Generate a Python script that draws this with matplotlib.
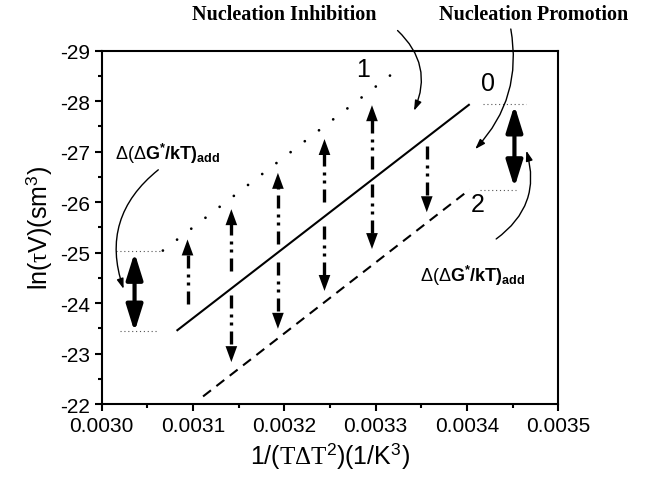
import numpy as np
import matplotlib
matplotlib.use('Agg')
import matplotlib.pyplot as plt
from matplotlib.ticker import MultipleLocator

plt.rcParams['font.family'] = ['Liberation Sans', 'DejaVu Sans']
plt.rcParams['mathtext.fontset'] = 'custom'
plt.rcParams['mathtext.rm'] = 'Liberation Serif'
plt.rcParams['mathtext.it'] = 'Liberation Serif:italic'
plt.rcParams['mathtext.sf'] = 'Liberation Sans'
plt.rcParams['mathtext.bf'] = 'Liberation Sans:bold'

# lines 0 (no additive), 1 (inhibition), 2 (promotion): end points
x_line0 = [0.003082, 0.003403]
y_line0 = [-23.45, -27.94]
x_line1 = [0.003067, 0.003331]
y_line1 = [-25.04, -28.72]
x_line2 = [0.003111, 0.003403]
y_line2 = [-22.15, -26.25]

# vertical arrows (dash-dot-dot)
up_x = [0.003094, 0.003142, 0.003193, 0.003244, 0.003296]
up_start = [-23.98, -24.64, -25.17, -26.00, -26.66]
up_tip = [-25.26, -25.86, -26.58, -27.25, -27.92]
down_x = [0.003142, 0.003193, 0.003244, 0.003296, 0.003356]
down_start = [-24.15, -24.81, -25.53, -26.36, -27.12]
down_tip = [-22.83, -23.49, -24.24, -25.07, -25.80]

# thick double arrows and the dotted guides
dbl_x = [0.003036, 0.003452]
dbl_y1 = [-25.00, -27.92]
dbl_y2 = [-23.43, -26.29]
guide_y = [-25.04, -23.44, -27.94, -26.25]
guide_x0 = [0.003016, 0.003020, 0.003418, 0.003414]
guide_x1 = [0.003066, 0.003062, 0.003465, 0.003454]

fig = plt.figure(figsize=(6.46, 4.81), dpi=100)
ax = fig.add_axes([0.1574, 0.158, 0.7068, 0.7345])

ax.plot(x_line0, y_line0, color='k', lw=1.5, solid_capstyle='butt')
ax.plot(x_line2, y_line2, color='k', lw=1.5, ls=(0, (4.8, 3.3)))
ax.plot(x_line1, y_line1, color='k', lw=2, ls=(0, (0.01, 6.44)),
        dash_capstyle='round')

# shaft drawn as a dash-dot-dot line, head as a filled triangle
dashdotdot = (0, (3.9, 1.8, 0.9, 1.5, 0.9, 1.8))
head_len = 0.28  # in data units along y
for x, s, t in zip(up_x + down_x, up_start + down_start, up_tip + down_tip):
    sgn = np.sign(t - s)
    ax.plot([x, x], [s, t - sgn * head_len], color='k', lw=2.4, ls=dashdotdot,
            dash_capstyle='butt')
    ax.annotate('', xy=(x, t), xytext=(x, s),
                arrowprops=dict(arrowstyle='-|>,head_length=1.15,head_width=0.42',
                                color='k', lw=0, shrinkA=0, shrinkB=0))

for x, a, b in zip(dbl_x, dbl_y1, dbl_y2):
    ax.annotate('', xy=(x, a), xytext=(x, b),
                arrowprops=dict(arrowstyle='<|-|>,head_length=1.6,head_width=0.5',
                                color='k', lw=3, shrinkA=0, shrinkB=0))

for y, a, b in zip(guide_y, guide_x0, guide_x1):
    ax.plot([a, b], [y, y], color='#555555', lw=0.8, ls=(0, (1, 2.5)))

# curve labels
ax.text(0.003286, -28.64, '1', fontsize=18, ha='center', va='center')
ax.text(0.003423, -28.37, '0', fontsize=18, ha='center', va='center')
ax.text(0.003412, -25.96, '2', fontsize=18, ha='center', va='center')

lab = r'$\mathsf{\Delta(\Delta}\mathbf{G^{*}/kT)_{add}}$'
ax.text(0.003015, -26.855, lab, fontsize=13, ha='left', va='baseline')
ax.text(0.003349, -24.44, lab, fontsize=13, ha='left', va='baseline')

# curved pointer arrows
thin = '-|>,head_length=0.6,head_width=0.2'
ax.annotate('', xy=(0.003342, -27.81), xytext=(0.003324, -29.40),
            annotation_clip=False,
            arrowprops=dict(arrowstyle=thin, color='k', lw=1,
                            connectionstyle='arc3,rad=-0.35', shrinkA=0, shrinkB=0))
ax.annotate('', xy=(0.003409, -27.05), xytext=(0.003448, -29.43),
            annotation_clip=False,
            arrowprops=dict(arrowstyle=thin, color='k', lw=1,
                            connectionstyle='arc3,rad=-0.25', shrinkA=0, shrinkB=0))
ax.annotate('', xy=(0.003465, -27.02), xytext=(0.003432, -25.27),
            arrowprops=dict(arrowstyle=thin, color='k', lw=1,
                            connectionstyle='arc3,rad=0.35', shrinkA=0, shrinkB=0))
ax.annotate('', xy=(0.003024, -24.28), xytext=(0.003062, -26.64),
            arrowprops=dict(arrowstyle=thin, color='k', lw=1,
                            connectionstyle='arc3,rad=0.35', shrinkA=0, shrinkB=0))

fig.text(284 / 646, 1 - 15 / 481, 'Nucleation Inhibition', fontsize=14.5,
         family='Liberation Serif', weight='bold', ha='center', va='center')
fig.text(534 / 646, 1 - 15 / 481, 'Nucleation Promotion', fontsize=14.5,
         family='Liberation Serif', weight='bold', ha='center', va='center')

ax.set_xlim(0.0030, 0.0035)
ax.set_ylim(-22, -29)
ax.xaxis.set_major_locator(MultipleLocator(0.0001))
ax.xaxis.set_minor_locator(MultipleLocator(0.00005))
ax.yaxis.set_major_locator(MultipleLocator(1))
ax.yaxis.set_minor_locator(MultipleLocator(0.5))
ax.xaxis.set_major_formatter(plt.FuncFormatter(lambda v, p: f'{v:.4f}'))
ax.yaxis.set_major_formatter(plt.FuncFormatter(lambda v, p: f'{v:.0f}'))
ax.tick_params(which='both', direction='out', top=False, right=False,
               labelsize=15, width=1.5)
ax.tick_params(which='major', length=5)
ax.tick_params(which='minor', length=3)
for sp in ax.spines.values():
    sp.set_linewidth(1.5)

ax.set_xlabel(r'1/($\mathrm{T\Delta T}^{\mathsf{2}}$)(1/K$^{\mathsf{3}}$)', fontsize=18)
ax.set_ylabel(r'ln($\mathrm{\tau}$V)(sm$^{\mathsf{3}}$)', fontsize=18)

fig.savefig('out.png', dpi=100)
